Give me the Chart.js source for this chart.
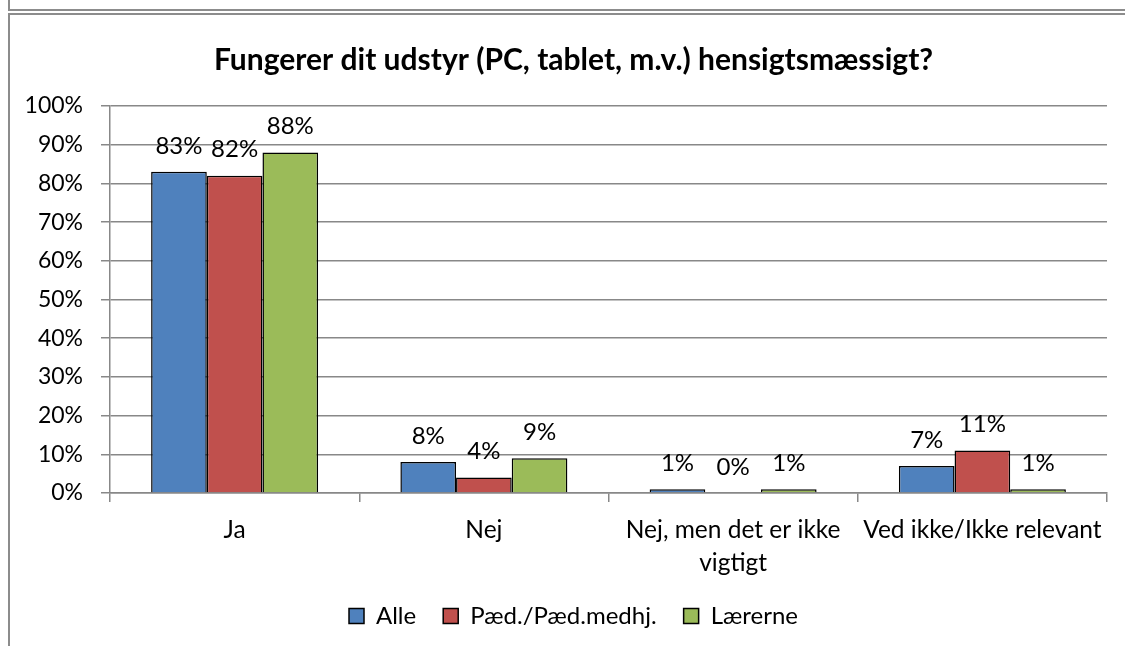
<!DOCTYPE html>
<html>
<head>
<meta charset="utf-8">
<script src="https://cdn.jsdelivr.net/npm/chart.js@4/dist/chart.umd.min.js"></script>
<style>
  html, body { margin: 0; padding: 0; background: #fff; }
  .wrap { position: relative; width: 1125px; height: 646px; overflow: hidden; }
  .frame-top { position: absolute; left: 8px; top: 9px; width: 1117px; height: 0; border-top: 2px solid #8c8c8c; }
  .frame-top-side { position: absolute; left: 8px; top: 0; width: 0; height: 9px; border-left: 2px solid #8c8c8c; }
  .frame-inner { position: absolute; left: 8px; top: 13px; width: 1117px; height: 640px; border-top: 2px solid #8c8c8c; border-left: 2px solid #8c8c8c; }
  canvas { position: absolute; left: 0; top: 0; }
</style>
</head>
<body>
<div class="wrap">
  <canvas id="chart" width="1125" height="646"></canvas>
  <div class="frame-top-side"></div>
  <div class="frame-top"></div>
  <div class="frame-inner"></div>
</div>
<script>
const categories = ['Ja', 'Nej', ['Nej, men det er ikke', 'vigtigt'], 'Ved ikke/Ikke relevant'];
const seriesNames = ['Alle', 'Pæd./Pæd.medhj.', 'Lærerne'];
const alle = [83, 8, 1, 7];
const paed = [82, 4, 0, 11];
const laererne = [88, 9, 1, 1];
const colors = ['#4F81BD', '#C0504D', '#9BBB59'];

const FONT = 'Lato, "Open Sans", sans-serif';

// writes the value above each bar, like the Excel data labels
const barLabels = {
  id: 'barLabels',
  afterDatasetsDraw(chart) {
    const ctx = chart.ctx;
    ctx.save();
    ctx.font = '24px ' + FONT;
    ctx.fillStyle = '#000';
    ctx.textAlign = 'center';
    ctx.textBaseline = 'middle';
    chart.data.datasets.forEach((ds, i) => {
      chart.getDatasetMeta(i).data.forEach((bar, j) => {
        ctx.fillText(ds.data[j] + '%', bar.x, bar.y - 26);
      });
    });
    ctx.restore();
  }
};

const makeSet = (label, data, color) => ({
  label: label,
  data: data,
  backgroundColor: color,
  borderColor: '#000',
  borderWidth: c => (c.raw === 0 ? 0 : 1.5),
  borderSkipped: 'bottom',
  barPercentage: 1.0,
  categoryPercentage: 0.67
});

new Chart(document.getElementById('chart'), {
  type: 'bar',
  data: {
    labels: categories,
    datasets: [
      makeSet(seriesNames[0], alle, colors[0]),
      makeSet(seriesNames[1], paed, colors[1]),
      makeSet(seriesNames[2], laererne, colors[2])
    ]
  },
  options: {
    responsive: false,
    animation: false,
    layout: { padding: { left: 26, right: 4, top: 0, bottom: 8 } },
    scales: {
      y: {
        min: 0,
        max: 100,
        ticks: {
          stepSize: 10,
          callback: v => v + '%',
          color: '#000',
          font: { family: FONT, size: 23 },
          padding: 18
        },
        grid: { color: '#888', lineWidth: 1.5, tickLength: 9 },
        border: { color: '#888', width: 1.5 },
        afterFit: s => { s.width = 84; }
      },
      // empty spacer on the right so title and legend centre like the original
      yRight: {
        position: 'right',
        ticks: { display: false },
        grid: { display: false },
        border: { display: false },
        afterFit: s => { s.width = 14; }
      },
      x: {
        ticks: {
          color: '#000',
          font: { family: FONT, size: 24.5, lineHeight: 1.33 },
          padding: 12
        },
        grid: { drawOnChartArea: false, color: '#888', lineWidth: 1.5, tickLength: 9, offset: true },
        border: { color: '#888', width: 1.5 },
        afterFit: s => { s.height = 84; }
      }
    },
    plugins: {
      title: {
        display: true,
        text: 'Fungerer dit udstyr (PC, tablet, m.v.) hensigtsmæssigt?',
        color: '#000',
        font: { family: FONT, size: 30, weight: 'bold' },
        padding: { top: 42, bottom: 28 }
      },
      legend: {
        position: 'bottom',
        labels: {
          color: '#000',
          font: { family: FONT, size: 24 },
          boxWidth: 15,
          boxHeight: 15,
          padding: 27
        }
      },
      tooltip: { enabled: false }
    }
  },
  plugins: [barLabels]
});
</script>
</body>
</html>
